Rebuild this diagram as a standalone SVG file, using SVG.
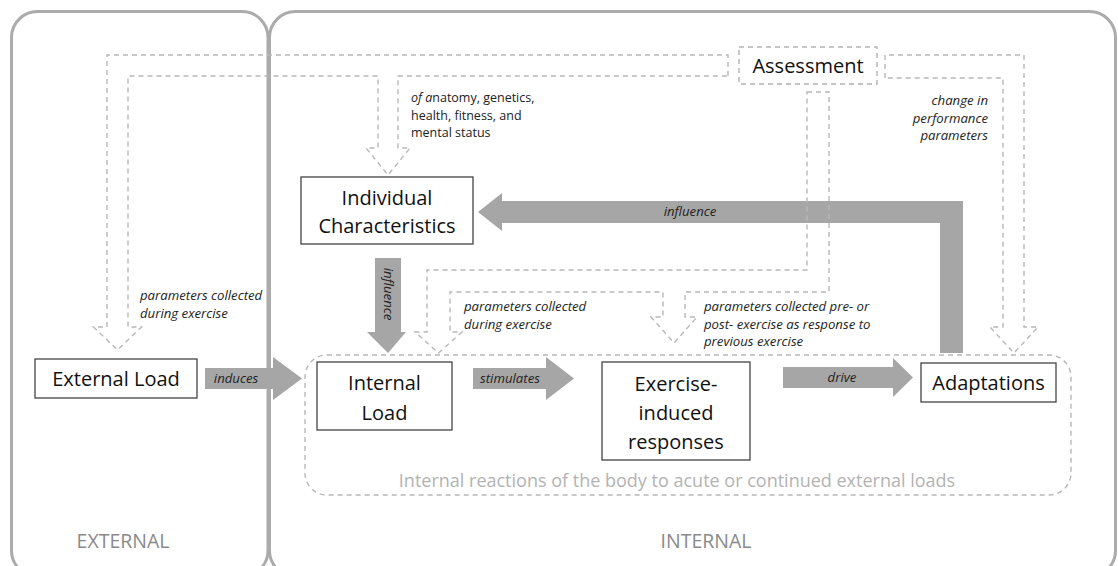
<svg xmlns="http://www.w3.org/2000/svg" width="1118" height="566" viewBox="0 0 1118 566">
<style>
.panel{fill:none;stroke:#ababab;stroke-width:3}
.box{fill:#fff;stroke:#444;stroke-width:1.3}
.dbox{fill:#fff;stroke:#b3b3b3;stroke-width:1.4;stroke-dasharray:5 4}
.dash{fill:none;stroke:#b8b8b8;stroke-width:1.4;stroke-dasharray:5 4}
.solid{fill:#a6a6a6;stroke:none}
.node{font-family:"Open Sans","Liberation Sans",sans-serif;font-size:20px;fill:#111;text-anchor:middle}
.lbl{font-family:"Open Sans","Liberation Sans",sans-serif;font-size:13.2px;font-style:italic;fill:#222}
.plain{font-family:"Open Sans","Liberation Sans",sans-serif;font-size:12.5px;fill:#222}
.zone{font-family:"Open Sans","Liberation Sans",sans-serif;font-size:19.5px;fill:#8a8a8a;text-anchor:middle}
.reac{font-family:"Open Sans","Liberation Sans",sans-serif;font-size:18px;fill:#b3b3b3;text-anchor:middle}
</style>
<rect width="1118" height="566" fill="#fff"/>
<g id="panels">
<rect class="panel" x="11.5" y="11.5" width="256.5" height="565" rx="26"/>
<rect class="panel" x="269.5" y="11.5" width="846" height="565" rx="26"/>
<text class="zone" x="123" y="548">EXTERNAL</text>
<text class="zone" x="706" y="548">INTERNAL</text>
</g>
<g id="internal-reactions">
<rect class="dash" x="305" y="355" width="766" height="140" rx="22"/>
<text class="reac" x="677" y="487">Internal reactions of the body to acute or continued external loads</text>
</g>
<g id="connectors">
<path class="solid" d="M205,368 L273,368 L273,357 L302,378.5 L273,400 L273,389 L205,389 Z"/>
<path class="solid" d="M473,368 L546,368 L546,357 L574,378.5 L546,400 L546,389 L473,389 Z"/>
<path class="solid" d="M783,367 L893,367 L893,358 L913,377.5 L893,397 L893,388 L783,388 Z"/>
<path class="solid" d="M375,258 L401,258 L401,332 L406,332 L388,353 L367,332 L375,332 Z"/>
<path class="solid" d="M963,353 L940,353 L940,223 L502,223 L502,231 L478,212 L502,193 L502,201 L963,201 Z"/>
<path class="dash" d="M728,76 L728,55 L107,55 L107,327 L93.5,327 L117.5,350 L141.5,327 L128,327 L128,76 L378,76 L378,148 L366,148 L388,175 L410,148 L398,148 L398,76 Z"/>
<path class="dash" d="M885,78 L885,55 L1024,55 L1024,327 L1038,327 L1014,353 L990,327 L1003,327 L1003,78 Z"/>
<path class="dash" d="M807,92 L829,92 L829,292 L685,292 L685,317 L697,317 L674,343 L651,317 L663,317 L663,292 L450,292 L450,332 L462,332 L438.5,353 L415,332 L427,332 L427,270 L807,270 Z"/>
<text class="lbl" x="236" y="383" text-anchor="middle">induces</text>
<text class="lbl" x="510" y="383" text-anchor="middle">stimulates</text>
<text class="lbl" x="842" y="382" text-anchor="middle">drive</text>
<text class="lbl" x="690" y="216" text-anchor="middle">influence</text>
<text class="lbl" transform="translate(384,294) rotate(90)" text-anchor="middle">influence</text>
<text class="plain" x="411"><tspan x="411" y="102"><tspan font-style="italic">of a</tspan>natomy, genetics,</tspan><tspan x="411" y="119.5">health, fitness, and</tspan><tspan x="411" y="137">mental status</tspan></text>
<text class="lbl" x="140"><tspan x="140" y="300">parameters collected</tspan><tspan x="140" y="317.5">during exercise</tspan></text>
<text class="lbl" x="464"><tspan x="464" y="311">parameters collected</tspan><tspan x="464" y="328.5">during exercise</tspan></text>
<text class="lbl" x="704"><tspan x="704" y="311">parameters collected pre- or</tspan><tspan x="704" y="328.5">post- exercise as response to</tspan><tspan x="704" y="346">previous exercise</tspan></text>
<text class="lbl" x="988" text-anchor="end"><tspan x="988" y="105">change in</tspan><tspan x="988" y="122.5">performance</tspan><tspan x="988" y="140">parameters</tspan></text>
</g>
<g id="assessment">
<rect class="dbox" x="739" y="47" width="138" height="37"/>
<text class="node" x="808" y="73">Assessment</text>
</g>
<g id="individual-characteristics">
<rect class="box" x="301" y="177" width="172" height="67"/>
<text class="node" x="387" y="205">Individual</text>
<text class="node" x="387" y="233">Characteristics</text>
</g>
<g id="external-load">
<rect class="box" x="35" y="359" width="162" height="39"/>
<text class="node" x="116" y="386">External Load</text>
</g>
<g id="internal-load">
<rect class="box" x="317" y="362" width="135" height="68"/>
<text class="node" x="384.5" y="390">Internal</text>
<text class="node" x="384.5" y="420">Load</text>
</g>
<g id="exercise-induced-responses">
<rect class="box" x="602" y="362" width="148" height="98"/>
<text class="node" x="676" y="391">Exercise-</text>
<text class="node" x="676" y="420">induced</text>
<text class="node" x="676" y="449">responses</text>
</g>
<g id="adaptations">
<rect class="box" x="921" y="363" width="135" height="39"/>
<text class="node" x="988.5" y="390">Adaptations</text>
</g>
</svg>
